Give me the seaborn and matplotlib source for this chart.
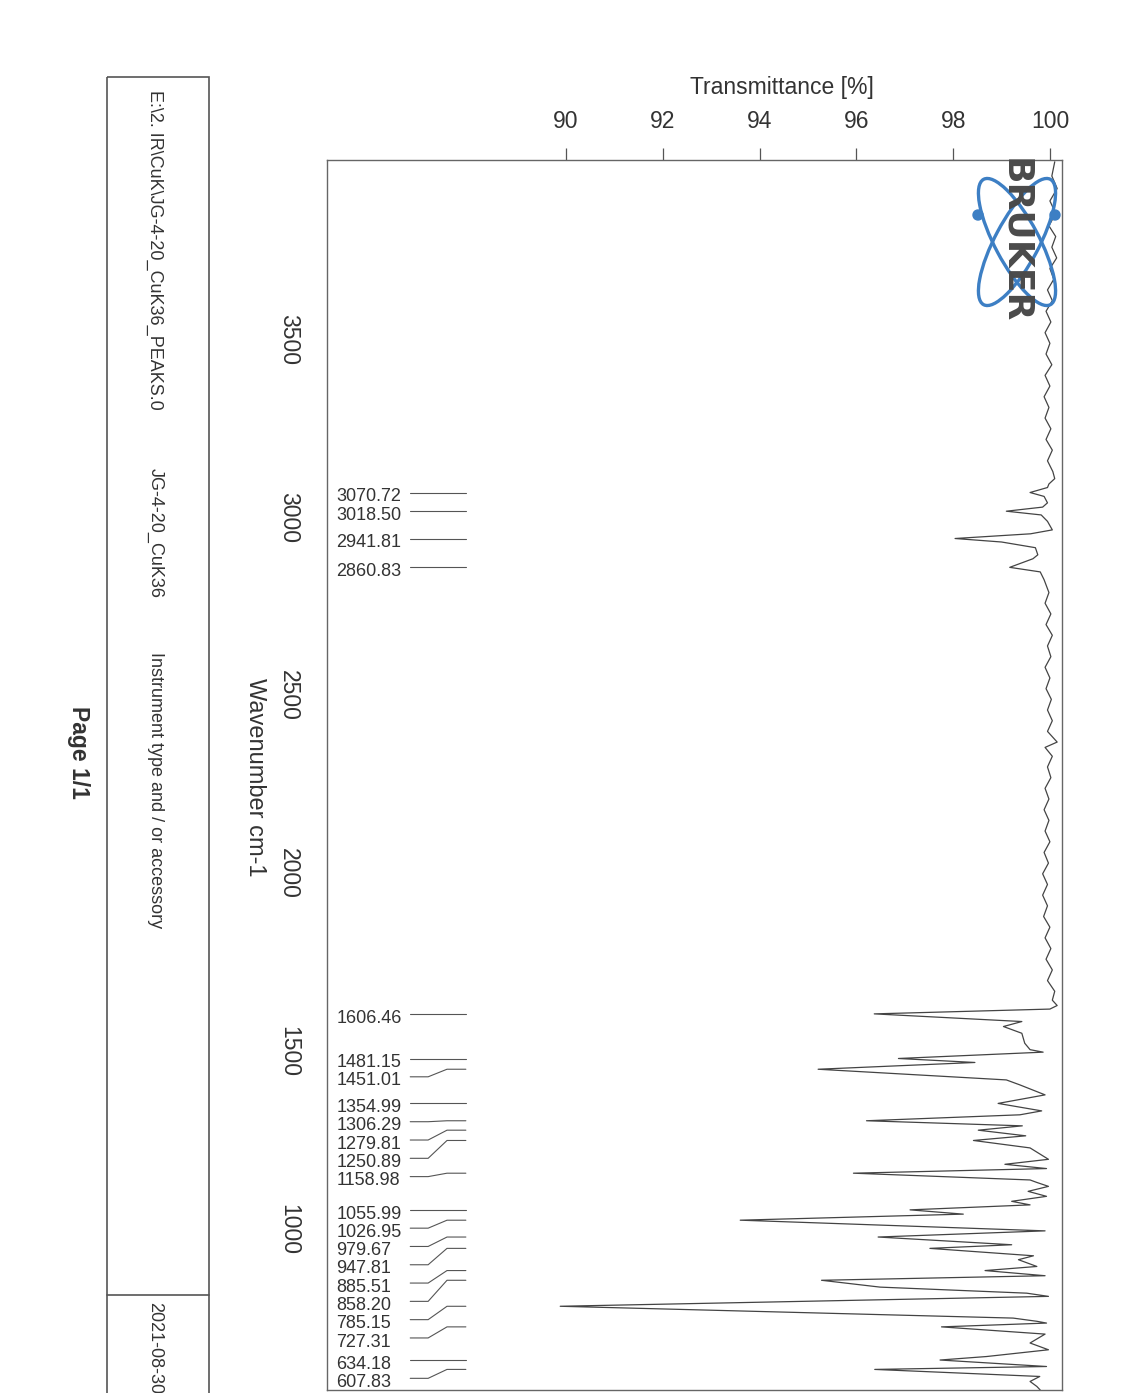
import numpy as np
import pandas as pd
import matplotlib.pyplot as plt
import matplotlib.patches as mpatches
import seaborn as sns

## IR spectrum, values

wavenumber = [
    4000, 3960, 3925, 3890, 3855, 3820, 3790, 3760, 3730, 3700,
    3670, 3640, 3610, 3580, 3550, 3520, 3490, 3460, 3430, 3400,
    3370, 3340, 3310, 3280, 3250, 3220, 3190, 3160, 3130, 3110,
    3095, 3085, 3071, 3060, 3042, 3030, 3018.5, 3008, 2990, 2966,
    2955, 2941.8, 2932, 2916, 2896, 2885, 2860.8, 2848, 2826, 2790,
    2760, 2730, 2700, 2670, 2640, 2610, 2580, 2550, 2520, 2490,
    2460, 2430, 2400, 2370, 2355, 2330, 2300, 2270, 2240, 2210,
    2180, 2150, 2120, 2090, 2060, 2030, 2000, 1970, 1940, 1910,
    1880, 1850, 1820, 1790, 1760, 1730, 1700, 1670, 1645, 1630,
    1620, 1606.5, 1585, 1571, 1552, 1524, 1506, 1499, 1481.2, 1470,
    1451, 1421, 1407, 1379, 1355, 1334, 1323, 1306.3, 1292, 1279.8,
    1264, 1250.9, 1230, 1198, 1184, 1172, 1159, 1140, 1133, 1122,
    1108, 1094, 1080, 1070, 1056, 1044, 1027, 997, 979.7, 958,
    947.8, 927, 916, 897, 885.5, 871, 858.2, 839, 822, 813,
    785.2, 752, 743, 738, 727.3, 707, 682, 663, 644, 634.2,
    616, 607.8, 588, 574, 560, 550,
]
transmittance = [
    100.10, 100.04, 100.15, 100.00, 100.12, 99.98, 100.12, 100.04, 100.14, 100.00,
    100.08, 99.95, 100.05, 99.92, 100.02, 99.90, 100.00, 99.92, 100.04, 99.90,
    100.00, 99.88, 99.98, 99.90, 100.02, 99.92, 100.05, 99.95, 100.06, 100.10,
    99.98, 99.95, 99.59, 99.88, 99.95, 99.85, 99.10, 99.82, 99.95, 100.05,
    99.60, 98.04, 99.00, 99.70, 99.75, 99.65, 99.17, 99.80, 99.88, 99.98,
    99.90, 100.02, 99.92, 100.05, 99.95, 100.02, 99.90, 100.00, 99.92, 100.03,
    99.95, 100.05, 99.95, 100.15, 99.90, 100.05, 99.95, 100.02, 99.90, 99.98,
    99.88, 99.98, 99.90, 100.00, 99.88, 99.97, 99.85, 99.95, 99.85, 99.95,
    99.87, 100.00, 99.90, 100.02, 99.92, 100.05, 99.95, 100.10, 100.05, 100.15,
    100.00, 96.37, 99.42, 99.04, 99.42, 99.48, 99.59, 99.86, 96.87, 98.45,
    95.21, 99.10, 99.38, 99.90, 98.93, 99.83, 99.38, 96.21, 99.43, 98.52,
    99.50, 98.42, 99.59, 99.97, 99.07, 99.93, 95.94, 99.59, 99.73, 99.97,
    99.55, 99.93, 99.21, 99.59, 97.11, 98.21, 93.60, 99.90, 96.45, 99.21,
    97.52, 99.66, 99.35, 99.73, 98.66, 99.90, 95.28, 96.49, 99.52, 99.97,
    89.88, 99.24, 99.73, 99.93, 97.76, 99.90, 99.59, 99.97, 98.69, 97.73,
    99.93, 96.38, 99.79, 99.59, 99.73, 99.80,
]

peaks = [
    3070.72, 3018.50, 2941.81, 2860.83, 1606.46, 1481.15, 1451.01,
    1354.99, 1306.29, 1279.81, 1250.89, 1158.98, 1055.99, 1026.95,
    979.67, 947.81, 885.51, 858.20, 785.15, 727.31, 634.18, 607.83,
]

wn_ticks = [3500, 3000, 2500, 2000, 1500, 1000]
t_ticks = [90, 92, 94, 96, 98, 100]

info_path = "E:\\2. IR\\CuK\\JG-4-20_CuK36_PEAKS.0"
info_sample = "JG-4-20_CuK36"
info_instr = "Instrument type and / or accessory"
info_date = "2021-08-30"

spec = pd.DataFrame({'wn': wavenumber, 'T': transmittance})

sns.set_style('white')
plt.rcParams['font.family'] = ['Liberation Sans', 'DejaVu Sans']

ink = '#333333'
W, H = 1129, 1393
fig = plt.figure(figsize=(W / 100, H / 100), dpi=100)
fig.patch.set_facecolor('white')

# axes placed by pixel positions of the scan
ax_l, ax_r, ax_t, ax_b = 327, 1062, 160, 1390
ax = fig.add_axes([ax_l / W, 1 - ax_b / H, (ax_r - ax_l) / W, (ax_b - ax_t) / H])

sns.lineplot(data=spec, x='T', y='wn', orient='y', sort=False, estimator=None,
             color='#444444', linewidth=0.9, ax=ax)

ax.set_xlim(85.06, 100.25)
ax.set_ylim(550, 4005)   # high wavenumber at the top
ax.set_xticks(t_ticks)
ax.set_yticks(wn_ticks)
ax.xaxis.tick_top()
ax.tick_params(axis='x', direction='out', length=8.5, width=0.9, pad=11,
               labelsize=16.5, colors='#555555', labelcolor=ink)
ax.tick_params(axis='y', direction='out', length=8.5, width=0.9, pad=11,
               labelsize=16.5, colors='#555555', labelcolor=ink, labelrotation=-90)
for lab in ax.get_yticklabels():
    lab.set_va('center')
ax.set_xlabel('')
ax.set_ylabel('')
for s in ax.spines.values():
    s.set_color('#666666')
    s.set_linewidth(1.0)

ax.text(0.619, 1.059, 'Transmittance [%]', transform=ax.transAxes,
        ha='center', va='center', fontsize=16.5, color=ink)
ax.text(-0.098, 0.498, 'Wavenumber cm-1', transform=ax.transAxes, rotation=-90,
        ha='center', va='center', fontsize=17, color=ink)

# peak labels, pushed down where they would overlap
gap = 51.4
prev = None
for p in peaks:
    lab_y = p if prev is None else min(p, prev - gap)
    prev = lab_y
    ax.text(85.25, lab_y - 6, f'{p:.2f}', ha='left', va='center_baseline',
            fontsize=13, color=ink)
    if abs(lab_y - p) < 1:
        ax.plot([86.78, 87.93], [p, p], color='#555555', lw=0.8)
    else:
        ax.plot([86.78, 87.15, 87.54, 87.93], [lab_y, lab_y, p, p],
                color='#555555', lw=0.8)

# page furniture in pixel coordinates
ov = fig.add_axes([0, 0, 1, 1], zorder=10)
ov.set_xlim(0, W)
ov.set_ylim(H, 0)
ov.axis('off')
ov.patch.set_alpha(0)

ov.add_patch(mpatches.Rectangle((107, 77), 102, 1400, fill=False,
                                edgecolor='#555555', lw=1.2))
ov.plot([107, 209], [1295, 1295], color='#555555', lw=1.2)
for txt, top in [(info_path, 90), (info_sample, 468), (info_instr, 652), (info_date, 1302)]:
    ov.text(155, top, txt, rotation=-90, ha='center', va='top', fontsize=13, color=ink)
ov.text(78, 752, 'Page 1/1', rotation=-90, ha='center', va='center',
        fontsize=16.5, fontweight='bold', color=ink)

# logo
blue = '#3d7fc4'
for ang in (62, 118):
    ov.add_patch(mpatches.Ellipse((1017, 242), 142, 44, angle=ang, fill=False,
                                  edgecolor=blue, lw=2.4))
for cx in (978, 1055):
    ov.add_patch(mpatches.Circle((cx, 215), 5, color=blue))
ov.text(1015, 241, 'BRUKER', rotation=-90, ha='center', va='center',
        fontsize=26, fontweight='heavy', color='#4a4a4a', family='DejaVu Sans')

fig.savefig('out.png', dpi=100)
